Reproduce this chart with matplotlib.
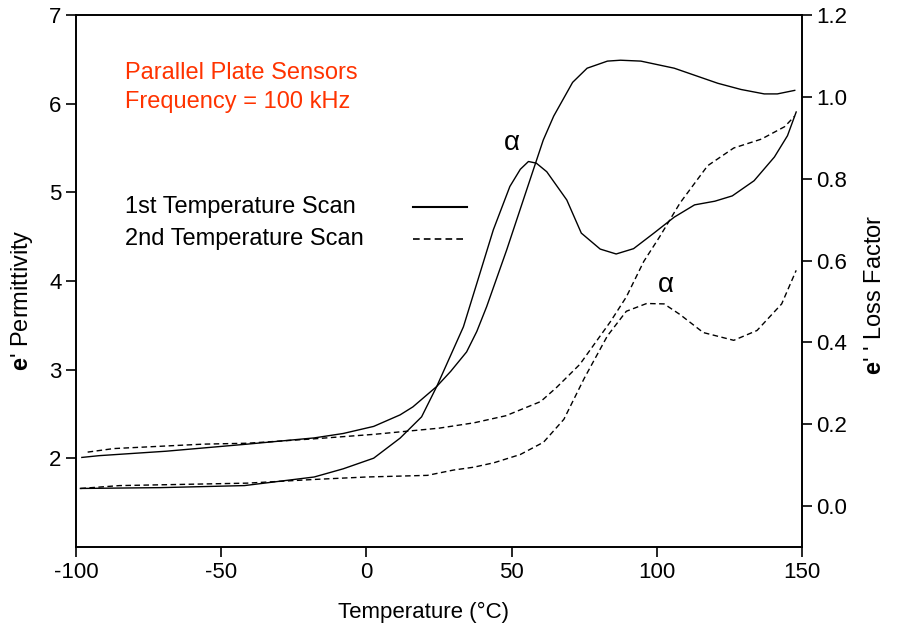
import matplotlib
matplotlib.use("Agg")
import matplotlib.pyplot as plt

plt.rcParams['font.family'] = ['Liberation Sans', 'DejaVu Sans']
plt.rcParams['mathtext.fontset'] = 'custom'
plt.rcParams['mathtext.bf'] = 'Liberation Sans:bold'
plt.rcParams['mathtext.rm'] = 'Liberation Sans'
plt.rcParams['axes.unicode_minus'] = False

# 1st scan, permittivity e' (left axis)
t_perm1 = [-98, -92, -69, -41, -18, -8, 2.5, 11.6, 16, 24.2, 29, 34.5, 38, 41.4, 48.3, 55.2, 60.9, 64.5, 71, 76, 83, 87.5, 94.5, 106, 121, 129, 137, 141.5, 147.5]
perm1 = [2.01, 2.03, 2.08, 2.16, 2.23, 2.28, 2.36, 2.49, 2.58, 2.81, 2.98, 3.20, 3.43, 3.71, 4.35, 5.03, 5.59, 5.86, 6.24, 6.40, 6.48, 6.49, 6.48, 6.40, 6.23, 6.16, 6.11, 6.11, 6.15]

# 1st scan, loss factor e'' (right axis)
t_loss1 = [-98.5, -71, -42, -18, -8, 2.5, 11.6, 19, 24.2, 33.4, 39.1, 43.7, 49.4, 53, 55.8, 58.5, 62.1, 69, 74, 80.5, 86, 92, 99, 106, 113, 120, 126, 133.5, 140.5, 145, 148]
loss1 = [0.043, 0.045, 0.050, 0.071, 0.091, 0.117, 0.166, 0.218, 0.292, 0.438, 0.569, 0.675, 0.781, 0.823, 0.842, 0.838, 0.817, 0.748, 0.667, 0.628, 0.616, 0.629, 0.667, 0.706, 0.736, 0.745, 0.758, 0.795, 0.853, 0.905, 0.963]

# 2nd scan, permittivity e'
t_perm2 = [-96, -87, -56, -41, -18, 2.5, 25, 37, 48, 60, 65.5, 73.5, 84, 89.5, 95.5, 101, 108, 117.5, 126.5, 136, 144, 147.5]
perm2 = [2.07, 2.11, 2.16, 2.17, 2.22, 2.27, 2.34, 2.40, 2.48, 2.64, 2.80, 3.06, 3.54, 3.82, 4.22, 4.50, 4.88, 5.30, 5.50, 5.60, 5.74, 5.86]

# 2nd scan, loss factor e''
t_loss2 = [-98.5, -85, -41, -18, 0, 21, 30, 37, 44, 53, 61, 68, 75, 83, 89.5, 96.5, 102.5, 108, 116, 126.5, 134.5, 143, 148]
loss2 = [0.043, 0.050, 0.056, 0.065, 0.071, 0.075, 0.088, 0.095, 0.106, 0.126, 0.156, 0.212, 0.312, 0.416, 0.476, 0.495, 0.494, 0.468, 0.424, 0.405, 0.429, 0.494, 0.576]

fig = plt.figure(figsize=(9.15, 6.33), dpi=100)
ax = fig.add_axes([0.0831, 0.1359, 0.7934, 0.8404])
ax2 = ax.twinx()

lw = 1.0
dash = (0, (4, 2.5))
ax.plot(t_perm1, perm1, color='black', lw=lw)
ax.plot(t_perm2, perm2, color='black', lw=lw, linestyle=dash)
ax2.plot(t_loss1, loss1, color='black', lw=lw)
ax2.plot(t_loss2, loss2, color='black', lw=lw, linestyle=dash)

ax.set_xlim(-100, 150)
ax.set_ylim(1, 7)
ax2.set_ylim(-0.1, 1.2)
ax.set_xticks([-100, -50, 0, 50, 100, 150])
ax.set_yticks([2, 3, 4, 5, 6, 7])
ax2.set_yticks([0.0, 0.2, 0.4, 0.6, 0.8, 1.0, 1.2])
ax2.set_yticklabels(['0.0', '0.2', '0.4', '0.6', '0.8', '1.0', '1.2'])

for a in (ax, ax2):
    a.tick_params(direction='out', length=7, width=1.2, labelsize=16, colors='black')
    for s in a.spines.values():
        s.set_linewidth(1.2)

ax.set_xlabel('Temperature (°C)', fontsize=16, labelpad=14)
ax.set_ylabel(r"$\mathbf{e}$' Permittivity", fontsize=17, labelpad=10)
ax2.set_ylabel(r"$\mathbf{e}$' ' Loss Factor", fontsize=17, rotation=90, labelpad=12)
ax.xaxis.label.set_x(0.478)
ax.yaxis.label.set_y(0.464)
ax2.yaxis.label.set_y(0.474)

# annotations
ax.text(-83, 6.35, 'Parallel Plate Sensors', color='#ff3300', fontsize=17, va='center')
ax.text(-83, 6.02, 'Frequency = 100 kHz', color='#ff3300', fontsize=17, va='center')
ax.text(-83, 4.83, '1st Temperature Scan', color='black', fontsize=17, va='center')
ax.text(-83, 4.47, '2nd Temperature Scan', color='black', fontsize=17, va='center')
ax.plot([16, 34.5], [4.83, 4.83], color='black', lw=1.5)
ax.plot([16, 34.5], [4.47, 4.47], color='black', lw=1.2, linestyle=(0, (4, 2.5)))

ax2.text(50, 0.887, 'α', fontsize=20, ha='center', va='center')
ax2.text(103, 0.539, 'α', fontsize=20, ha='center', va='center')

fig.savefig('out.png', dpi=100)
